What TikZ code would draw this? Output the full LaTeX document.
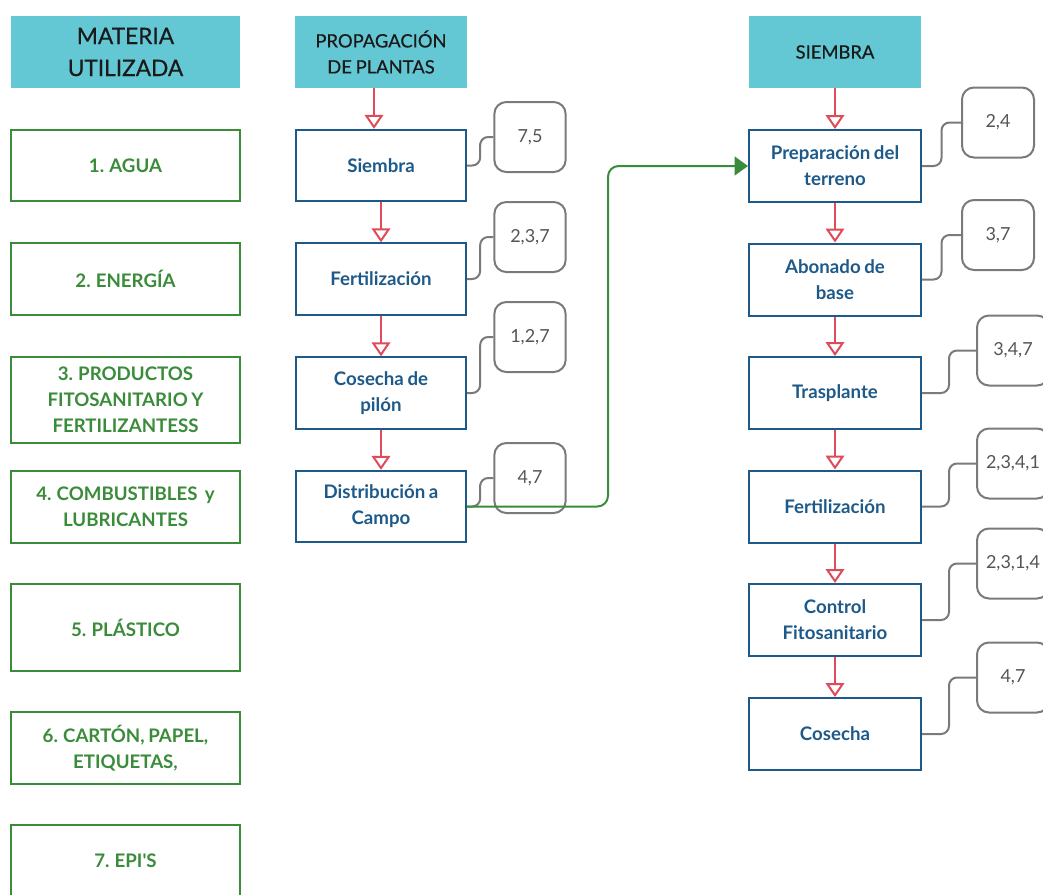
\documentclass[tikz,border=0pt]{standalone}
\usepackage{fontspec}
\setmainfont{Lato}[WordSpace=0.8]
\newfontfamily\headfont{Lato}[WordSpace=0.8,UprightFeatures={FakeBold=0.5}]
\usetikzlibrary{arrows.meta,calc}
\definecolor{headc}{HTML}{64C8D4}
\definecolor{bluec}{HTML}{1D5A8A}
\definecolor{greenc}{HTML}{3A8C3A}
\definecolor{grayc}{HTML}{7A7A7A}
\definecolor{graytxt}{HTML}{555555}
\definecolor{redc}{HTML}{E04B5A}
\definecolor{headtxt}{HTML}{1A1A1A}
\begin{document}
\begin{tikzpicture}[x=0.75pt,y=-0.75pt,
 head/.style={fill=headc, minimum width=129pt, minimum height=54pt, align=center, inner sep=0pt, text=headtxt, font=\headfont\fontsize{13.8}{19.5}\selectfont},
 mat/.style={draw=greenc, fill=white, line width=1.5pt, minimum width=171.75pt, inner sep=0pt, align=center, text=greenc, font=\fontsize{14}{19.5}\selectfont\bfseries},
 proc/.style={draw=bluec, fill=white, line width=1.5pt, minimum width=128.25pt, minimum height=53.5pt, inner sep=0pt, align=center, text=bluec, font=\fontsize{14}{19.5}\selectfont\bfseries},
 badge/.style={draw=grayc, line width=1.5pt, rounded corners=9pt, minimum width=53.5pt, minimum height=52.5pt, inner sep=0pt, text=graytxt, font=\fontsize{13.5}{16}\selectfont},
 flow/.style={draw=redc, line width=1.5pt, -{Triangle[open, length=10.5pt, width=14pt, fill=white]}},
 link/.style={draw=grayc, line width=1.5pt, rounded corners=6pt},
 go/.style={draw=greenc, line width=1.5pt, rounded corners=8pt, -{Triangle[length=10pt, width=14pt]}}
]
\useasboundingbox (0,0) rectangle (1043,894);
\clip (0,0) rectangle (1043,894);
\fill[white] (0,0) rectangle (1043,894);

% headers
\node[head, minimum width=171.75pt, font=\headfont\fontsize{17}{24}\selectfont] (hm) at (125.5,52) {MATERIA\\UTILIZADA};
\node[head] (hp) at (381,52) {PROPAGACIÓN\\DE PLANTAS};
\node[head] (hs) at (835,52) {SIEMBRA};

% materials
\node[mat, minimum height=53.25pt] (m1) at (125.5,165.5) {1. AGUA};
\node[mat, minimum height=54pt] (m2) at (125.5,279) {2. ENERGÍA};
\node[mat, minimum height=64.5pt] (m3) at (125.5,400) {3. PRODUCTOS\\FITOSANITARIO Y\\FERTILIZANTESS};
\node[mat, minimum height=54pt] (m4) at (125.5,507) {4. COMBUSTIBLES\ \ y\\LUBRICANTES};
\node[mat, minimum height=65.25pt] (m5) at (125.5,627.5) {5. PLÁSTICO};
\node[mat, minimum height=54pt] (m6) at (125.5,748) {6. CARTÓN, PAPEL,\\ETIQUETAS,};
\node[mat, minimum height=54pt] (m7) at (125.5,861) {7. EPI\textquotesingle S};

% propagation column
\node[proc, minimum width=127.5pt] (a1) at (381,165.5) {Siembra};
\node[proc, minimum width=127.5pt] (a2) at (381,279) {Fertilización};
\node[proc, minimum width=127.5pt] (a3) at (381,393) {Cosecha de\\pilón};
\node[proc, minimum width=127.5pt] (a4) at (381,506.5) {Distribución a\\Campo};

% siembra column
\node[proc, minimum width=129pt, minimum height=54pt] (b1) at (835,166) {Preparación del\\terreno};
\node[proc, minimum width=129pt, minimum height=54pt] (b2) at (835,279.5) {Abonado de\\base};
\node[proc, minimum width=129pt, minimum height=54pt] (b3) at (835,393) {Trasplante};
\node[proc, minimum width=129pt, minimum height=54pt] (b4) at (835,506.5) {Fertilización};
\node[proc, minimum width=129pt, minimum height=54pt] (b5) at (835,620) {Control\\Fitosanitario};
\node[proc, minimum width=129pt, minimum height=54pt] (b6) at (835,734) {Cosecha};

% badges middle
\node[badge] (c1) at (530,137) {7,5};
\node[badge] (c2) at (530,237) {2,3,7};
\node[badge] (c3) at (530,337) {1,2,7};
\node[badge] (c4) at (530,478) {4,7};

% badges right
\node[badge, minimum width=54pt] (d1) at (998,122.5) {2,4};
\node[badge, minimum width=54pt] (d2) at (998,235) {3,7};
\node[badge, minimum width=54pt] (d3) at (1013,350.5) {3,4,7};
\node[badge, minimum width=54pt] (d4) at (1013,463.5) {2,3,4,1};
\node[badge, minimum width=54pt] (d5) at (1013,563.5) {2,3,1,4};
\node[badge, minimum width=54pt] (d6) at (1013,677.5) {4,7};

% gray links
\foreach \p/\q in {a1/c1,a2/c2,a3/c3,a4/c4,b1/d1,b2/d2,b3/d3,b4/d4,b5/d5,b6/d6}{
  \draw[link] (\p.east) -| ($(\p.east)!.5!(\q.west)$) |- (\q.west);
}

% red flows
\draw[flow] ([xshift=-5.25pt]hp.south) -- ([xshift=-5.25pt]a1.north);
\draw[flow] (a1.south) -- (a2.north);
\draw[flow] (a2.south) -- (a3.north);
\draw[flow] (a3.south) -- (a4.north);
\draw[flow] (hs.south) -- (b1.north);
\draw[flow] (b1.south) -- (b2.north);
\draw[flow] (b2.south) -- (b3.north);
\draw[flow] (b3.south) -- (b4.north);
\draw[flow] (b4.south) -- (b5.north);
\draw[flow] (b5.south) -- (b6.north);

% green link
\coordinate (gx) at (608,166);
\draw[go] (a4.east) -| (gx) -- (b1.west);
\end{tikzpicture}
\end{document}
